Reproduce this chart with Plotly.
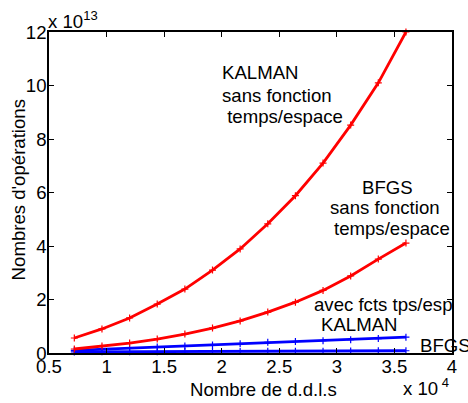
import plotly.graph_objects as go

# Data (x in units of 1e4 d.d.l.s, y in units of 1e13 operations)
x_ddl = [0.72, 0.96, 1.2, 1.44, 1.68, 1.92, 2.16, 2.4, 2.64, 2.88, 3.12, 3.36, 3.6]
kalman_sans = [0.56, 0.9, 1.31, 1.83, 2.39, 3.1, 3.89, 4.83, 5.88, 7.1, 8.52, 10.1, 12.0]
bfgs_sans = [0.15, 0.26, 0.37, 0.52, 0.71, 0.93, 1.2, 1.53, 1.9, 2.34, 2.88, 3.51, 4.11]
kalman_avec = [0.1, 0.14, 0.18, 0.22, 0.26, 0.3, 0.35, 0.4, 0.43, 0.46, 0.5, 0.54, 0.59]
bfgs_avec = [0.04, 0.045, 0.05, 0.05, 0.055, 0.06, 0.06, 0.065, 0.07, 0.07, 0.075, 0.08, 0.085]

x_ticks = [0.5, 1, 1.5, 2, 2.5, 3, 3.5, 4]
x_ticktext = ["0.5", "1", "1.5", "2", "2.5", "3", "3.5", "4"]
y_ticks = [0, 2, 4, 6, 8, 10, 12]
y_ticktext = ["0", "2", "4", "6", "8", "10", "12"]

FONT = "Liberation Sans, Arial, sans-serif"
FS = 18.6

fig = go.Figure()

def add_series(y, color):
    fig.add_trace(go.Scatter(
        x=x_ddl, y=y, mode="lines+markers",
        line=dict(color=color, width=2.8),
        marker=dict(symbol="cross-thin", size=5, line=dict(color=color, width=1.2)),
        showlegend=False, cliponaxis=False,
    ))

add_series(bfgs_avec, "#0000ff")
add_series(kalman_avec, "#0000ff")
add_series(bfgs_sans, "#ff0000")
add_series(kalman_sans, "#ff0000")

L, R, T, B = 49, 11, 32, 50
W, H = 468, 403
pw, ph = W - L - R, H - T - B

def px2data(px, py):
    x = 0.5 + (px - L) / pw * 3.5
    y = (H - B - py) / ph * 12
    return x, y

def px2paper(px, py):
    return (px - L) / pw, (H - B - py) / ph

def label(text, px, py, xanchor="left"):
    x, y = px2data(px, py)
    fig.add_annotation(x=x, y=y, xref="x", yref="y", text=text, showarrow=False,
                       xanchor=xanchor, yanchor="middle",
                       font=dict(family=FONT, size=FS, color="black"))

label("KALMAN", 222, 72)
label("sans fonction", 222, 95)
label(" temps/espace", 222, 116)
label("BFGS", 364, 187)
label("sans fonction", 331, 207)
label("temps/espace", 336, 228)
label("avec fcts tps/esp", 315, 304)
label("KALMAN", 322, 324)
label("BFGS", 423, 345)

def plabel(text, px, py, xanchor="left", yanchor="middle", angle=0):
    x, y = px2paper(px, py)
    fig.add_annotation(x=x, y=y, xref="paper", yref="paper", text=text, showarrow=False,
                       xanchor=xanchor, yanchor=yanchor, textangle=angle,
                       font=dict(family=FONT, size=FS, color="black"))

plabel("Nombre de d.d.l.s", 266, 389, xanchor="center")
plabel("Nombres d'opérations", 18, 190, xanchor="center", angle=-90)
plabel("x 10<sup>13</sup>", 46, 20)
plabel("x 10<sup> 4</sup>", 405, 387)

axis_common = dict(
    showline=True, linecolor="black", linewidth=1.5, mirror="ticks",
    ticks="inside", ticklen=5, tickwidth=1, tickcolor="black",
    showgrid=False, zeroline=False,
    tickfont=dict(family=FONT, size=FS, color="black"),
)

fig.update_xaxes(range=[0.5, 4], tickvals=x_ticks, ticktext=x_ticktext,
                 ticklabelstandoff=-4, **axis_common)
fig.update_yaxes(range=[0, 12], tickvals=y_ticks, ticktext=y_ticktext,
                 ticklabelstandoff=-3, **axis_common)

fig.update_layout(
    width=W, height=H,
    margin=dict(l=L, r=R, t=T, b=B),
    paper_bgcolor="white", plot_bgcolor="white",
    font=dict(family=FONT, size=FS, color="black"),
)

fig.write_html("out.html")
